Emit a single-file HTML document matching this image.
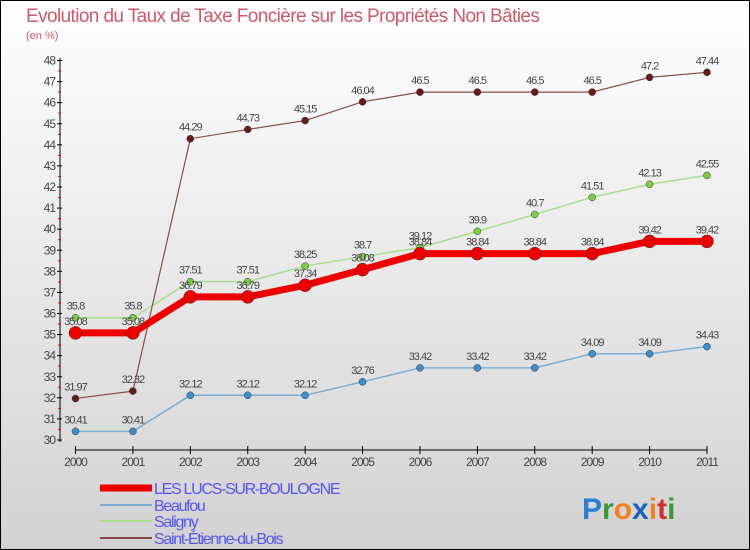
<!DOCTYPE html>
<html><head><meta charset="utf-8"><style>
body{margin:0;}
#wrap{width:748px;height:548px;border:1px solid #000;background:linear-gradient(#fff,#d2d2d2);position:relative;font-family:"Liberation Sans",sans-serif;overflow:hidden}
svg{position:absolute;left:-1px;top:-1px}
</style></head><body>
<div id="wrap">
<svg id="c" width="750" height="550">
<text x="26" y="22" font-size="19" fill="#c85a6a" letter-spacing="-0.6">Evolution du Taux de Taxe Foncière sur les Propriétés Non Bâties</text>
<text x="26" y="39" font-size="11" fill="#c85a6a">(en %)</text>
</svg>
</div>
<script>
const years=["2000","2001","2002","2003","2004","2005","2006","2007","2008","2009","2010","2011"];
const lucs=[35.08,35.08,36.79,36.79,37.34,38.08,38.84,38.84,38.84,38.84,39.42,39.42];
const beaufou=[30.41,30.41,32.12,32.12,32.12,32.76,33.42,33.42,33.42,34.09,34.09,34.43];
const saligny=[35.8,35.8,37.51,37.51,38.25,38.7,39.12,39.9,40.7,41.51,42.13,42.55];
const stEtienne=[31.97,32.32,44.29,44.73,45.15,46.04,46.5,46.5,46.5,46.5,47.2,47.44];
const yTicks=[30,31,32,33,34,35,36,37,38,39,40,41,42,43,44,45,46,47,48];
const svg=document.getElementById('c');const NS='http://www.w3.org/2000/svg';
const x=i=>75.5+i*(707-75.5)/11;
const y=v=>440-(v-30)*(440-60.5)/18;
function el(t,a,p){const e=document.createElementNS(NS,t);for(const k in a)e.setAttribute(k,a[k]);(p||svg).appendChild(e);return e;}
let a=el('line',{x1:60,y1:58,x2:60,y2:442,stroke:'#000'});


yTicks.forEach(v=>{el('line',{x1:57,x2:62,y1:y(v),y2:y(v),stroke:'#000'});
 if(v<48)el('line',{x1:58,x2:61,y1:y(v+0.5),y2:y(v+0.5),stroke:'#e00'});
 const t=el('text',{x:55,y:y(v)+4,'font-size':12,'text-anchor':'end',fill:'#444','letter-spacing':'-1'});t.textContent=v;
 
 });
a=el('line',{x1:75.5,y1:450,x2:707,y2:450,stroke:'#000'});


years.forEach((yr,i)=>{el('line',{x1:x(i),x2:x(i),y1:446,y2:454,stroke:'#000'});
 const t=el('text',{x:x(i),y:466,'font-size':12,'text-anchor':'middle',fill:'#444','letter-spacing':'-1'});t.textContent=yr;
 
 });
function series(d,col,w,r,name,dot){
 const g=el('g',{});
 
 
 el('polyline',{points:d.map((v,i)=>x(i)+','+y(v)).join(' '),fill:'none',stroke:col,'stroke-width':w},g);
 d.forEach((v,i)=>{const c=el('circle',{cx:x(i),cy:y(v),r:r,fill:dot,stroke:'#333','stroke-width':0.5},g);
 
 
 const t=el('text',{x:x(i),y:y(v)-8,'font-size':11,'text-anchor':'middle',fill:'#444','letter-spacing':'-1'},g);t.textContent=v;});
}
series(beaufou,'#7aaed2',1.5,3.5,'series-beaufou','#3d8fd0');
series(saligny,'#a6e08a',1.5,3.5,'series-saligny','#7ad040');
series(stEtienne,'#8a4a4a',1.2,3.5,'series-saint-etienne-du-bois','#6a1a1a');
series(lucs,'#ee0000',7,6.5,'series-les-lucs-sur-boulogne','#ee0000');
const leg=[['LES LUCS-SUR-BOULOGNE','#ee0000',7],['Beaufou','#7aaed2',2],['Saligny','#a6e08a',2],['Saint-Étienne-du-Bois','#8a4a4a',2]];
const ly=[492,509,525,542];
leg.forEach((l,i)=>{const g=el('g',{});
 
 
 el('line',{x1:100,x2:152,y1:ly[i]-4,y2:ly[i]-4,stroke:l[1],'stroke-width':l[2]},g);
 const t=el('text',{x:154,y:ly[i]+2,'font-size':16,fill:'#5555ee','letter-spacing':'-1.3'},g);t.textContent=l[0];});
const p=el('text',{x:582,y:519,'font-size':30,'font-weight':'bold',fill:'#2a7fd0'});


p.innerHTML='<tspan>P</tspan><tspan fill="#3a9a3a">r</tspan><tspan fill="#f08020">o</tspan><tspan fill="#1a60c0">x</tspan><tspan fill="#f08020">i</tspan><tspan fill="#d03030">t</tspan><tspan fill="#3a9a3a">i</tspan>';
</script>
</body></html>
